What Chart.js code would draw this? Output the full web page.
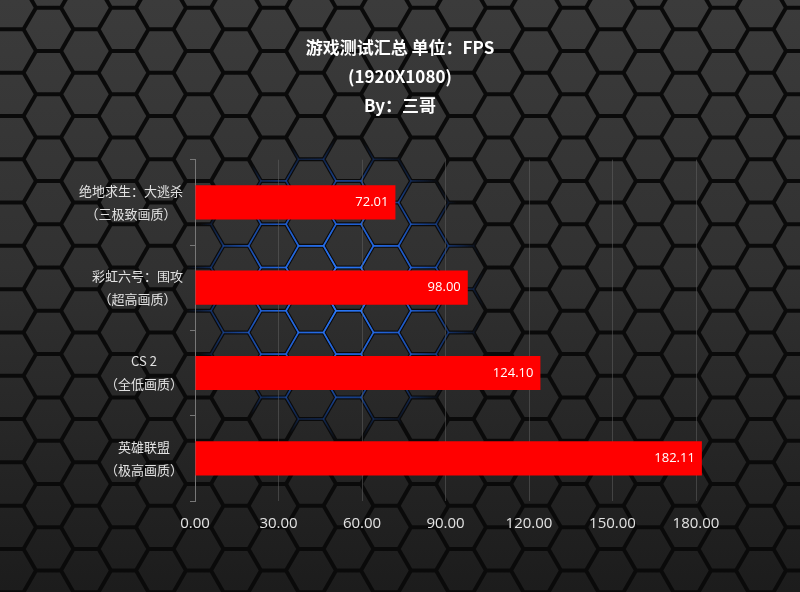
<!DOCTYPE html>
<html>
<head>
<meta charset="utf-8">
<script src="https://cdn.jsdelivr.net/npm/chart.js@4.4.1/dist/chart.umd.min.js"></script>
<style>
html, body { margin: 0; padding: 0; background: #222; }
#wrap { width: 800px; height: 592px; position: relative; }
</style>
</head>
<body>
<div id="wrap"><canvas id="fpsChart"></canvas></div>
<script>
// Datos del gráfico
const games = ['绝地求生：大逃杀', '彩虹六号：围攻', 'CS 2', '英雄联盟'];
const quality = ['（三极致画质）', '（超高画质）', '（全低画质）', '（极高画质）'];
const fps = [72.01, 98.00, 124.10, 182.11];
const titleLines = ['游戏测试汇总 单位：FPS', '(1920X1080)', 'By：三哥'];

const labels = games.map((g, i) => [g, quality[i]]);

// Fondo de hexágonos (solo decoración)
const hexBackground = {
    id: 'hexBackground',
    beforeDraw(chart) {
        const ctx = chart.ctx, w = chart.width, h = chart.height;
        const s = 25, dx = 37.5, dy = 43.3;
        ctx.save();
        ctx.fillStyle = '#0a0a0a';
        ctx.fillRect(0, 0, w, h);
        const hexPath = (cx, cy, r) => {
            ctx.beginPath();
            for (let k = 0; k < 6; k++) {
                const a = Math.PI / 3 * k;
                const px = cx + r * Math.cos(a), py = cy + r * Math.sin(a);
                if (k) ctx.lineTo(px, py); else ctx.moveTo(px, py);
            }
            ctx.closePath();
        };
        const centers = [];
        for (let i = -3; i < 25; i++) {
            for (let j = -2; j < 16; j++) {
                centers.push([86 + i * dx, 51 + j * dy - ((i & 1) ? dy / 2 : 0)]);
            }
        }
        const g = ctx.createLinearGradient(0, 0, 0, h);
        g.addColorStop(0, '#3b3b3b');
        g.addColorStop(0.45, '#313131');
        g.addColorStop(1, '#1c1c1c');
        ctx.fillStyle = g;
        centers.forEach(([x, y]) => { hexPath(x, y, s - 2.3); ctx.fill(); });

        const blue = ctx.createRadialGradient(335, 290, 5, 335, 290, 150);
        blue.addColorStop(0, 'rgba(45,125,255,0.9)');
        blue.addColorStop(0.5, 'rgba(35,105,235,0.6)');
        blue.addColorStop(1, 'rgba(35,105,235,0)');
        ctx.strokeStyle = blue;
        ctx.lineWidth = 1.6;
        centers.forEach(([x, y]) => {
            if (Math.hypot(x - 335, y - 290) < 200) { hexPath(x, y, s); ctx.stroke(); }
        });
        ctx.restore();
    }
};

// Etiquetas del eje Y (dos líneas, centradas por bloque)
const yLabels = {
    id: 'yLabels',
    afterDraw(chart) {
        const ctx = chart.ctx, ys = chart.scales.y;
        ctx.save();
        ctx.font = '13px "Noto Sans CJK SC"';
        ctx.fillStyle = '#e2e2e2';
        ctx.textAlign = 'center';
        ctx.textBaseline = 'middle';
        chart.data.labels.forEach((lines, i) => {
            const py = ys.getPixelForTick(i);
            const width = Math.max(...lines.map(t => ctx.measureText(t).width));
            const cx = ys.right - 12 - width / 2;
            lines.forEach((t, k) => ctx.fillText(t, cx, py + (k - (lines.length - 1) / 2) * 23));
        });
        ctx.restore();
    }
};

// Valores dentro de las barras
const barValues = {
    id: 'barValues',
    afterDatasetsDraw(chart) {
        const ctx = chart.ctx;
        ctx.save();
        ctx.font = '13px "Open Sans"';
        ctx.fillStyle = '#ffffff';
        ctx.textAlign = 'right';
        ctx.textBaseline = 'middle';
        chart.getDatasetMeta(0).data.forEach((bar, i) => {
            ctx.fillText(fps[i].toFixed(2), bar.x - 7, bar.y);
        });
        ctx.restore();
    }
};

new Chart(document.getElementById('fpsChart'), {
    type: 'bar',
    data: {
        labels: labels,
        datasets: [{
            label: 'FPS',
            data: fps,
            backgroundColor: '#ff0000',
            borderWidth: 0,
            barPercentage: 1,
            categoryPercentage: 0.4,
            clip: false
        }]
    },
    options: {
        indexAxis: 'y',
        responsive: true,
        maintainAspectRatio: false,
        animation: false,
        layout: { padding: { left: 0, right: 0, top: 0, bottom: 45 } },
        plugins: {
            legend: { display: false },
            tooltip: { enabled: false },
            title: {
                display: true,
                text: titleLines,
                color: '#ffffff',
                font: { family: '"Noto Sans CJK SC"', size: 17, weight: 'bold', lineHeight: 1.7 },
                padding: { top: 33, bottom: 40 }
            }
        },
        scales: {
            x: {
                min: 0,
                max: 180,
                ticks: {
                    stepSize: 30,
                    color: '#e2e2e2',
                    font: { family: '"Open Sans"', size: 15 },
                    padding: 14,
                    callback: v => v.toFixed(2)
                },
                grid: { color: 'rgba(100,100,100,0.5)', drawTicks: false },
                border: { display: false },
                afterFit: scale => { scale.paddingRight = 104; }
            },
            y: {
                ticks: { display: false },
                grid: { drawOnChartArea: false, color: '#777', tickLength: 5 },
                border: { display: true, color: '#777' },
                afterFit: scale => { scale.width = 195; }
            }
        }
    },
    plugins: [hexBackground, yLabels, barValues]
});
</script>
</body>
</html>
